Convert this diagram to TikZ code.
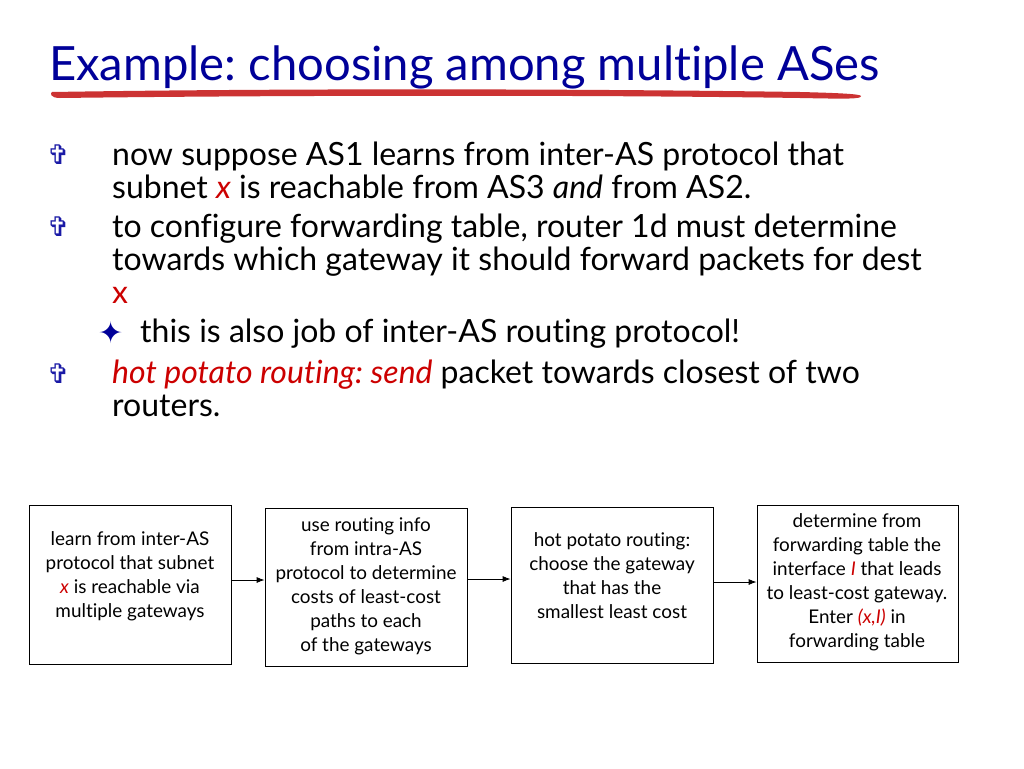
\documentclass[tikz,border=0pt]{standalone}
\usepackage{fontspec}
\setmainfont{Lato}[Ligatures=NoCommon]
\newfontfamily\symfont{DejaVu Sans}
\usetikzlibrary{arrows.meta}
\definecolor{titleblue}{HTML}{000099}
\definecolor{txtred}{HTML}{CC0000}
\definecolor{ulred}{HTML}{CC3333}
\definecolor{bulblue}{HTML}{1A1AA6}
\frenchspacing
\begin{document}
\begin{tikzpicture}[x=1pt,y=-1pt,
  body/.style={anchor=base west,inner sep=0pt,font=\fontsize{32}{33}\selectfont},
  bul/.style={anchor=base west,inner sep=0pt,text=bulblue,font=\symfont\fontsize{27}{27}\selectfont},
  stepbox/.style={draw,line width=0.8pt,rectangle,inner sep=0pt},
  boxtxt/.style={align=center,inner sep=0pt,font=\fontsize{18.9}{24}\selectfont},
  flow/.style={line width=0.8pt,-{Latex[length=8pt,width=6pt]}}]
\useasboundingbox (0,0) rectangle (1024,768);
\fill[white] (0,0) rectangle (1024,768);
% title
\node[anchor=base west,inner sep=0pt,text=titleblue,font=\fontsize{47.2}{50}\selectfont] (title) at (49,80) {Example: choosing among multiple ASes};
\fill[ulred] (52,92) .. controls (300,88) and (600,89) .. (800,92)
  .. controls (840,93) and (860,94) .. (861,96)
  .. controls (861,99) and (850,99) .. (800,98)
  .. controls (600,95) and (300,95) .. (60,98)
  .. controls (50,98) and (50,93) .. (52,92) -- cycle;
% bullets
\node[bul] (b1s) at (47,164) {✞};
\node[bul] (b2s) at (47,236) {✞};
\node[bul] (b3s) at (47,383) {✞};
\node[anchor=base west,inner sep=0pt,text=titleblue,font=\symfont\fontsize{30}{30}\selectfont] (sub) at (98,343) {✦};
% body text
\node[body] (l1) at (112,165) {now suppose AS1 learns from inter-AS protocol that};
\node[body] (l2) at (112,198) {subnet \textcolor{txtred}{\itshape x} is reachable from AS3 \textit{and} from AS2.};
\node[body] (l3) at (112,237) {to configure forwarding table, router 1d must determine};
\node[body] (l4) at (112,270) {towards which gateway it should forward packets for dest};
\node[body,text=txtred] (l5) at (112,303) {x};
\node[body] (l6) at (140,342) {this is also job of inter-AS routing protocol!};
\node[body] (l7) at (112,383) {\textcolor{txtred}{\itshape hot potato routing: send} packet towards closest of two};
\node[body] (l8) at (112,416) {routers.};
% boxes
\node[stepbox,minimum width=202pt,minimum height=159pt] (bx1) at (130,584.5) {};
\node[stepbox,minimum width=202pt,minimum height=158pt] (bx2) at (366,587) {};
\node[stepbox,minimum width=202pt,minimum height=156pt] (bx3) at (612,585) {};
\node[stepbox,minimum width=201pt,minimum height=157pt] (bx4) at (857.5,583.5) {};
\node[boxtxt] (t1) at (130,576) {learn from inter-AS\\protocol that subnet\\\textcolor{txtred}{\itshape x} is reachable via\\multiple gateways};
\node[boxtxt] (t2) at (366,586) {use routing info\\from intra-AS\\protocol to determine\\costs of least-cost\\paths to each\\of the gateways};
\node[boxtxt] (t3) at (612,576) {hot potato routing:\\choose the gateway\\that has the\\smallest least cost};
\node[boxtxt] (t4) at (857,582) {determine from\\forwarding table the\\interface \textcolor{txtred}{\itshape I} that leads\\to least-cost gateway.\\Enter \textcolor{txtred}{\itshape (x,I)} in\\forwarding table};
% arrows
\coordinate (y1) at (0,580);
\coordinate (y2) at (0,579);
\coordinate (y3) at (0,582);
\draw[flow] (bx1.east |- y1) -- (bx2.west |- y1);
\draw[flow] (bx2.east |- y2) -- (bx3.west |- y2);
\draw[flow] (bx3.east |- y3) -- (bx4.west |- y3);
\end{tikzpicture}
\end{document}
